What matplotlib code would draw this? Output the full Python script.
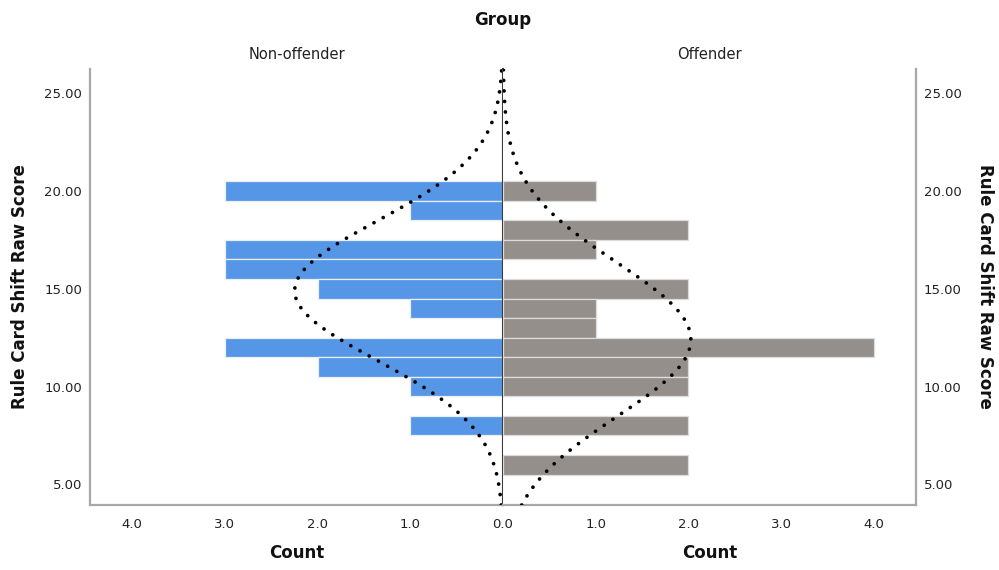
import numpy as np
import matplotlib
matplotlib.use("Agg")
import matplotlib.pyplot as plt

plt.rcParams['font.family'] = ['DejaVu Sans']

# score bins (bin width 1) and counts per group
scores_non = [20, 19, 17, 16, 15, 14, 12, 11, 10, 8]
counts_non = [3, 1, 3, 3, 2, 1, 3, 2, 1, 1]
scores_off = [20, 18, 17, 15, 14, 13, 12, 11, 10, 8, 6]
counts_off = [1, 2, 1, 2, 1, 1, 4, 2, 2, 2, 2]

yticks = [5, 10, 15, 20, 25]
xticks = [0, 1, 2, 3, 4]

blue = '#5596e6'
grey = '#958f8c'
spine_col = '#a8a8a8'


def normal_curve(scores, counts, y):
    vals = np.repeat(scores, counts).astype(float)
    n = len(vals)
    mu = vals.mean()
    sd = vals.std(ddof=1)
    return n / (sd * np.sqrt(2 * np.pi)) * np.exp(-0.5 * ((y - mu) / sd) ** 2)


fig = plt.figure(figsize=(9.99, 5.70), dpi=100)
ax_l = fig.add_axes([0.0904, 0.114, 0.4131, 0.765])
ax_r = fig.add_axes([0.5035, 0.114, 0.4131, 0.765])

ymin, ymax = 3.94, 26.24
yy = np.linspace(ymin, ymax, 400)

ax_l.barh(scores_non, counts_non, height=1.0, color=blue,
          edgecolor='#e8eef7', linewidth=0.9)
ax_r.barh(scores_off, counts_off, height=1.0, color=grey,
          edgecolor='#dcdcdc', linewidth=0.9)

for ax, sc, ct in [(ax_l, scores_non, counts_non), (ax_r, scores_off, counts_off)]:
    ax.plot(normal_curve(sc, ct, yy), yy, color='black', linewidth=2.7,
            linestyle=(0, (0.01, 2.8)), dash_capstyle='round', zorder=5)
    ax.set_ylim(ymin, ymax)
    ax.set_xticks(xticks)
    ax.set_yticks(yticks)
    ax.set_yticklabels([f"{v:.2f}" for v in yticks])
    ax.tick_params(length=0, labelsize=9.5, colors='#222222', pad=6)
    ax.tick_params(axis='x', pad=9)
    ax.spines['top'].set_visible(False)
    for s in ['left', 'right', 'bottom']:
        ax.spines[s].set_color(spine_col)
        ax.spines[s].set_linewidth(1.6)

# the shared 0.0 label is written once, under the centre line
ax_l.set_xticklabels([f"{v:.1f}" for v in xticks])
ax_r.set_xticklabels([''] + [f"{v:.1f}" for v in xticks[1:]])

ax_l.set_xlim(4.45, 0)
ax_r.set_xlim(0, 4.45)

ax_l.spines['right'].set_color('#3a3a3a')
ax_l.spines['right'].set_linewidth(1.5)
ax_l.spines['right'].set_zorder(6)
ax_r.spines['left'].set_visible(False)
ax_r.yaxis.tick_right()

fig.text(0.5035, 0.965, 'Group', ha='center', va='center',
         fontsize=12, fontweight='bold', color='#111111')
fig.text(0.297, 0.904, 'Non-offender', ha='center', va='center',
         fontsize=10.5, color='#222222')
fig.text(0.710, 0.904, 'Offender', ha='center', va='center',
         fontsize=10.5, color='#222222')
fig.text(0.297, 0.030, 'Count', ha='center', va='center',
         fontsize=12, fontweight='bold', color='#111111')
fig.text(0.710, 0.030, 'Count', ha='center', va='center',
         fontsize=12, fontweight='bold', color='#111111')
fig.text(0.020, 0.497, 'Rule Card Shift Raw Score', ha='center', va='center',
         rotation=90, fontsize=12, fontweight='bold', color='#111111')
fig.text(0.986, 0.497, 'Rule Card Shift Raw Score', ha='center', va='center',
         rotation=270, fontsize=12, fontweight='bold', color='#111111')

fig.savefig('out.png', dpi=100)
